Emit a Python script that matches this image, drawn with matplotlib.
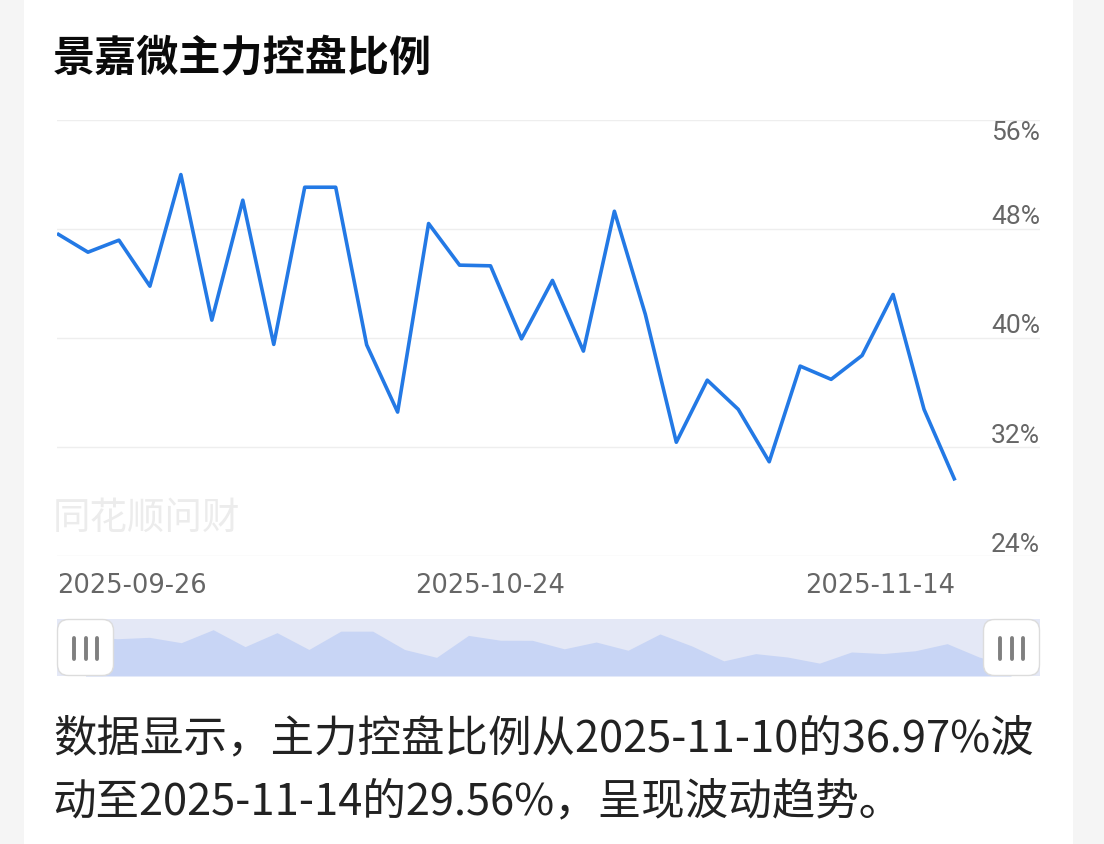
import matplotlib
matplotlib.use("Agg")
import matplotlib.pyplot as plt
from matplotlib.patches import Rectangle, FancyBboxPatch
import matplotlib.transforms as mtransforms

# ---------------- data ----------------
dates = ["2025-09-26", "2025-09-29", "2025-09-30", "2025-10-09", "2025-10-10",
         "2025-10-13", "2025-10-14", "2025-10-15", "2025-10-16", "2025-10-17",
         "2025-10-20", "2025-10-21", "2025-10-22", "2025-10-23", "2025-10-24",
         "2025-10-27", "2025-10-28", "2025-10-29", "2025-10-30", "2025-10-31",
         "2025-11-03", "2025-11-04", "2025-11-05", "2025-11-06", "2025-11-07",
         "2025-11-10", "2025-11-11", "2025-11-12", "2025-11-13", "2025-11-14"]
ratio = [47.66, 46.29, 47.17, 43.80, 51.98, 41.31, 50.10, 39.53, 51.05, 51.05,
         39.50, 34.57, 48.39, 45.34, 45.29, 39.94, 44.22, 39.04, 49.29, 41.73,
         32.36, 36.91, 34.77, 30.93, 37.94, 36.97, 38.72, 43.19, 34.77, 29.56]
y_ticks = [24, 32, 40, 48, 56]
y_tick_labels = ["24%", "32%", "40%", "48%", "56%"]
x_label_idx = [0, 14, 29]

title = "景嘉微主力控盘比例"
watermark = "同花顺问财"
para_lines = ["数据显示，主力控盘比例从2025-11-10的36.97%波",
              "动至2025-11-14的29.56%，呈现波动趋势。"]

# ---------------- figure ----------------
W, H = 1104, 845
fig = plt.figure(figsize=(W / 100, H / 100), dpi=100, facecolor="#f5f5f5")
CJK = ["Noto Sans CJK SC", "DejaVu Sans"]
NUM = ["Roboto", "Noto Sans CJK SC", "DejaVu Sans"]
DATEF = ["DejaVu Sans"]


def fx(px):
    return px / W


def fy(py):
    return 1 - py / H


def pixel_axes(zorder):
    a = fig.add_axes([0, 0, 1, 1], zorder=zorder)
    a.set_xlim(0, W)
    a.set_ylim(H, 0)
    a.axis("off")
    a.patch.set_visible(False)
    return a


# background card
bg = pixel_axes(0)
bg.add_patch(Rectangle((24, 0), 1049, H, facecolor="white", edgecolor="none"))
bg.text(53, 518, watermark, ha="left", va="center", fontsize=27,
        color="#ececec", family=CJK)

# ---------------- main chart ----------------
left_px, right_px, top_px, bot_px = 57, 1040, 120.7, 557.3
step = (955 - 57) / 29.0
ax = fig.add_axes([fx(left_px), fy(bot_px), fx(right_px - left_px), (bot_px - top_px) / H],
                  zorder=2)
ax.set_facecolor("none")
ax.set_xlim(0, (right_px - left_px) / step)
ax.set_ylim(24, 56)
for s in ax.spines.values():
    s.set_visible(False)
ax.set_xticks([])
ax.set_yticks([])
for t in y_ticks:
    ax.axhline(t, color="#eeeeee", lw=1.0, zorder=1)

ax.plot(range(len(ratio)), ratio, color="#2379e5", lw=2.6,
        solid_joinstyle="round", solid_capstyle="butt", zorder=3)

# y labels (right side, above gridlines; top label below)
ytrans = ax.get_yaxis_transform()
for t, lab in zip(y_ticks, y_tick_labels):
    dy = -9 if t == y_ticks[-1] else 9
    tr = mtransforms.offset_copy(ytrans, fig=fig, x=0, y=dy, units="points")
    ax.text(1.0, t, lab, transform=tr, ha="right", va="center",
            fontsize=19, color="#666666", family=NUM)

# x labels
xtrans = ax.get_xaxis_transform()
for i in x_label_idx:
    ha = "left" if i == 0 else ("right" if i == len(dates) - 1 else "center")
    tr = mtransforms.offset_copy(xtrans, fig=fig, x=0, y=-20.5, units="points")
    ax.text(i, 0, dates[i], transform=tr, ha=ha, va="center",
            fontsize=18.5, color="#666666", family=DATEF)

# ---------------- slider (dataZoom) ----------------
sl_top, sl_bot = 620, 677
s0, s1 = 85.5, 1011
sstep = (s1 - s0) / 29.0
sax = fig.add_axes([fx(57), fy(sl_bot), fx(1040 - 57), (sl_bot - sl_top) / H], zorder=3)
sax.set_facecolor("#e4e8f6")
sax.set_xlim(-(s0 - 57) / sstep, 29 + (1040 - s1) / sstep)
vmin, vmax = min(ratio), max(ratio)
pad = (vmax - vmin) * 0.3
sax.set_ylim(vmin - pad, vmax + pad)
sax.fill_between(range(len(ratio)), ratio, vmin - pad, color="#c8d5f5", lw=0)
for s in sax.spines.values():
    s.set_visible(False)
sax.set_xticks([])
sax.set_yticks([])

# top overlay: handles + texts
ov = pixel_axes(5)
for hx in (57, 983):
    ov.add_patch(FancyBboxPatch((hx + 0.5, sl_top + 0.5), 56, 56,
                                boxstyle="round,pad=0,rounding_size=11",
                                facecolor="white", edgecolor="#dcdcdc", lw=1.0, zorder=5))
    for bx in (17, 28.5, 40):
        ov.plot([hx + bx, hx + bx], [638.5, 659.5], color="#7f7f7f", lw=2.8,
                solid_capstyle="round", zorder=6)

ov.text(53, 58, title, ha="left", va="center", fontsize=30.3, fontweight="bold",
        color="#0a0a0a", family=CJK, zorder=7)
ov.text(53, 739, para_lines[0], ha="left", va="center", fontsize=31.3,
        color="#222222", family=CJK, zorder=7)
ov.text(53, 802, para_lines[1], ha="left", va="center", fontsize=31.3,
        color="#222222", family=CJK, zorder=7)

fig.savefig("out.png", dpi=100, facecolor=fig.get_facecolor())
